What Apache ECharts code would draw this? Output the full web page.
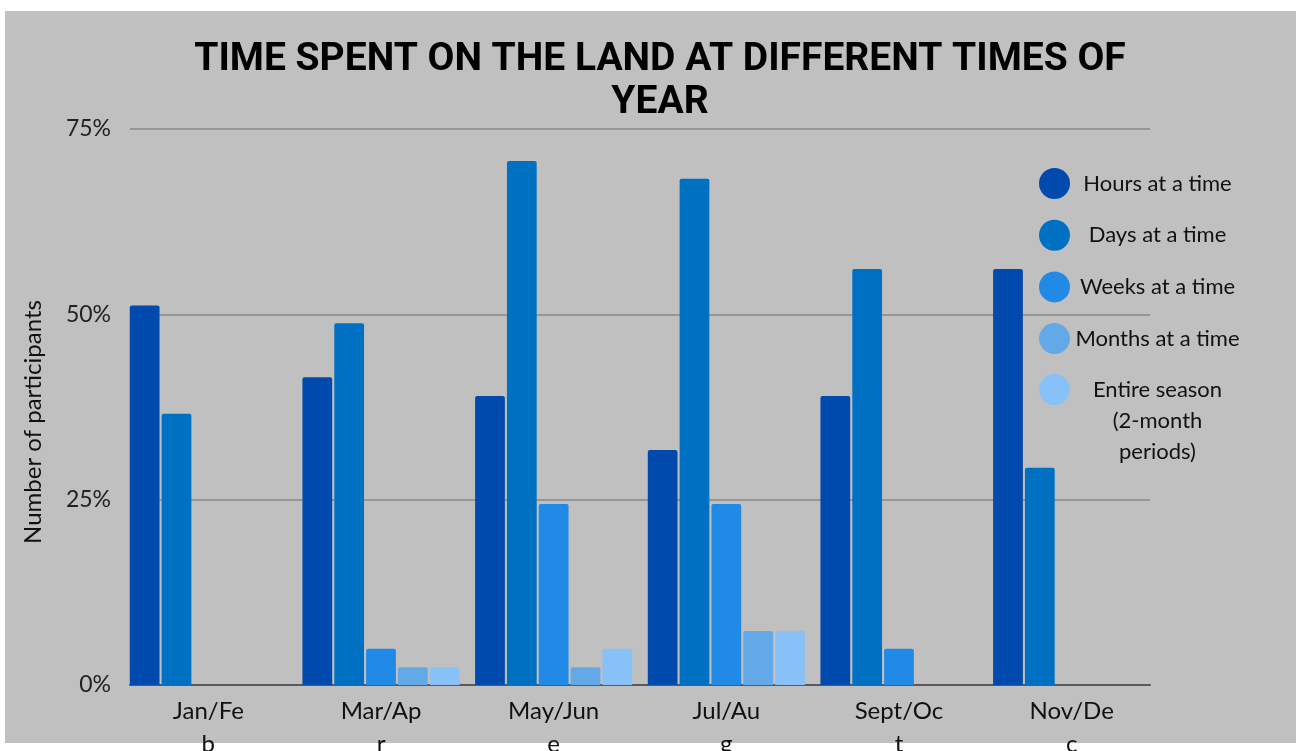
<!DOCTYPE html>
<html>
<head>
<meta charset="utf-8">
<title>Time spent on the land</title>
<script src="https://cdn.jsdelivr.net/npm/echarts@6/dist/echarts.min.js"></script>
<style>
  html, body { margin: 0; padding: 0; background: #ffffff; }
  #panel { position: absolute; left: 5px; top: 11px; width: 1291px; height: 732px; background: #c0c0c0; }
  #chart { position: absolute; left: 0; top: 0; width: 1296px; height: 751px; }
</style>
</head>
<body>
<div id="panel"></div>
<div id="chart"></div>
<script>
// Two-month periods of the year
const periods = ['Jan/Feb', 'Mar/Apr', 'May/June', 'Jul/Aug', 'Sept/Oct', 'Nov/Dec'];

// Share of participants (%) for each length of stay
const hoursAtATime  = [51.2, 41.5, 39.0, 31.7, 39.0, 56.1];
const daysAtATime   = [36.6, 48.8, 70.7, 68.3, 56.1, 29.3];
const weeksAtATime  = [0, 4.9, 24.4, 24.4, 4.9, 0];
const monthsAtATime = [0, 2.4, 2.4, 7.3, 0, 0];
const entireSeason  = [0, 2.4, 4.9, 7.3, 0, 0];

// Value axis ticks
const yTicks = [0, 25, 50, 75];

const seriesNames = ['Hours at a time', 'Days at a time', 'Weeks at a time', 'Months at a time', 'Entire season (2-month periods)'];
const seriesValues = [hoursAtATime, daysAtATime, weeksAtATime, monthsAtATime, entireSeason];
const seriesColors = ['#0049ad', '#0071c2', '#2189e6', '#63a9e8', '#88c1f8'];

const baseFont = 'Lato, "Noto Sans", sans-serif';

const chart = echarts.init(document.getElementById('chart'), null, { renderer: 'canvas' });

function legendLabel(name) {
  if (name === seriesNames[4]) {
    return '{e|Entire season}\n{e|(2-month}\n{e|periods)}';
  }
  return '{c|' + name + '}';
}

const legendRich = {
  c: { width: 165, align: 'center', fontSize: 22, lineHeight: 26, color: '#111', fontFamily: baseFont },
  e: { width: 165, align: 'center', fontSize: 22, lineHeight: 31, color: '#111', fontFamily: baseFont }
};

chart.setOption({
  backgroundColor: 'transparent',
  animation: false,
  title: {
    text: 'TIME SPENT ON THE LAND AT DIFFERENT TIMES OF\nYEAR',
    left: 660,
    textAlign: 'center',
    top: 39,
    padding: 0,
    textStyle: {
      fontFamily: 'Roboto, "DejaVu Sans", sans-serif',
      fontWeight: 'bold',
      fontSize: 39,
      lineHeight: 43,
      color: '#000000'
    }
  },
  legend: [
    {
      data: seriesNames.slice(0, 4),
      orient: 'vertical',
      left: 1039,
      top: 168,
      padding: 0,
      icon: 'circle',
      itemWidth: 31,
      itemHeight: 31,
      itemGap: 20.7,
      selectedMode: false,
      formatter: legendLabel,
      textStyle: { rich: legendRich }
    },
    {
      data: [seriesNames[4]],
      orient: 'vertical',
      left: 1039,
      top: 374,
      padding: 0,
      icon: 'circle',
      itemWidth: 31,
      itemHeight: 31,
      selectedMode: false,
      formatter: legendLabel,
      textStyle: { rich: legendRich, padding: [62, 0, 0, 0] }
    }
  ],
  grid: [
    { left: 130, right: 146, top: 129, bottom: 66, outerBoundsMode: 'none' },
    { left: 122, right: 138, top: 129, bottom: 66, outerBoundsMode: 'none' }
  ],
  xAxis: [
    {
      type: 'value', gridIndex: 0, min: 0, max: 1,
      axisLine: { show: true, lineStyle: { color: '#5a5a5a', width: 2 } },
      axisTick: { show: false }, axisLabel: { show: false }, splitLine: { show: false }
    },
    {
      type: 'category', gridIndex: 1, data: periods,
      axisLine: { show: false }, axisTick: { show: false },
      axisLabel: {
        margin: 10,
        fontFamily: baseFont,
        fontSize: 24,
        lineHeight: 33,
        color: '#111',
        // the period names wrap onto a second line just before their last letter
        formatter: function (v) { return v.slice(0, -1) + '\n' + v.slice(-1); }
      }
    }
  ],
  yAxis: [
    {
      type: 'value', gridIndex: 0, min: yTicks[0], max: yTicks[yTicks.length - 1], interval: 25,
      name: 'Number of participants',
      nameLocation: 'middle',
      nameRotate: 90,
      nameGap: 85,
      nameTextStyle: { fontFamily: baseFont, fontSize: 24, color: '#111', padding: [0, 30, 0, 0] },
      axisLine: { show: false }, axisTick: { show: false },
      axisLabel: { margin: 19, fontFamily: baseFont, fontSize: 23, color: '#222', formatter: '{value}%' },
      splitLine: { show: true, lineStyle: { color: '#969696', width: 2 } }
    },
    {
      type: 'value', gridIndex: 1, min: yTicks[0], max: yTicks[yTicks.length - 1],
      show: false, splitLine: { show: false }
    }
  ],
  series: seriesNames.map(function (name, i) {
    return {
      name: name,
      type: 'bar',
      xAxisIndex: 1,
      yAxisIndex: 1,
      data: seriesValues[i],
      barCategoryGap: '9%',
      barGap: '7%',
      itemStyle: {
        color: seriesColors[i],
        borderRadius: [2, 2, 0, 0]
      }
    };
  })
});
</script>
</body>
</html>
